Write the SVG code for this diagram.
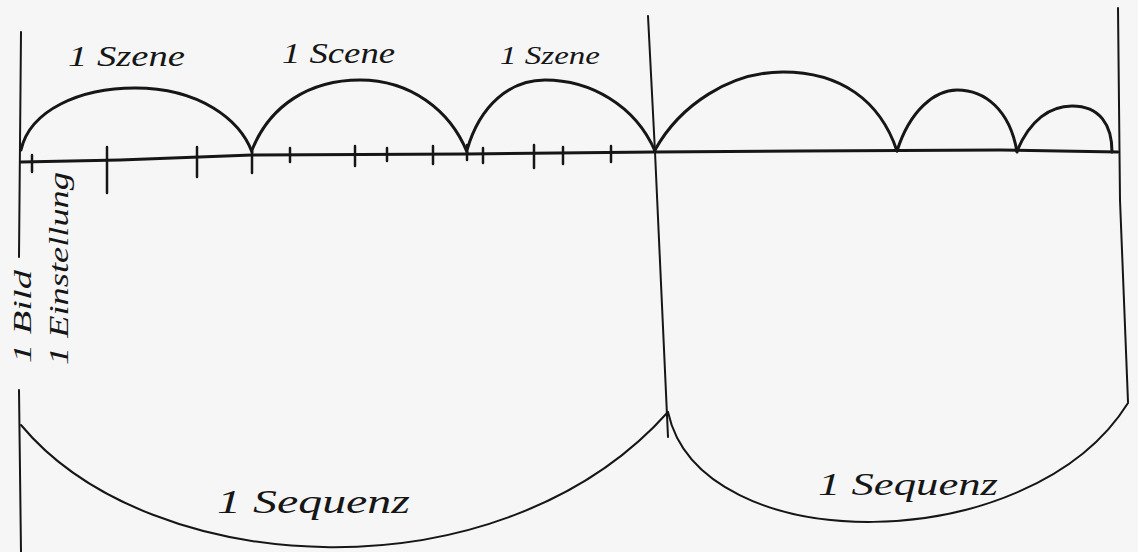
<svg xmlns="http://www.w3.org/2000/svg" width="1138" height="552" viewBox="0 0 1138 552">
<style>
.ln{fill:none;stroke:#161616;stroke-linecap:round;stroke-linejoin:round}
.thick{stroke-width:3}
.thin{stroke-width:2}
.tick{stroke-width:2.5}
.t{font-family:"Liberation Serif","DejaVu Serif",serif;font-style:italic;fill:#161616}
</style>
<rect width="1138" height="552" fill="#f6f6f6"/>
<g id="frame">
<path class="ln thin" d="M21,32 L19,257"/>
<path class="ln thin" d="M19,390 L21,552"/>
<path class="ln thin" d="M648,16 L655,152 L668,437"/>
<path class="ln thin" d="M1118,8 L1120,200 L1128,402"/>
</g>
<g id="timeline">
<path class="ln thick" d="M21,162 L120,160 L252,155 L467,154 L655,152 L800,151 L1000,150 L1118,152"/>
<g id="ticks">
<path class="ln tick" d="M32,155 V172 M107,147 V193 M197,147 V177 M252,150 V173 M290,148 V162 M355,146 V166 M387,148 V161 M433,146 V164 M467,145 V160 M483,148 V163 M534,145 V168 M563,147 V164 M611,146 V162"/>
</g>
</g>
<g id="scenes">
<path class="ln thick" d="M21,150 C30,110 80,88 135,88 C200,88 240,120 252,152"/>
<path class="ln thick" d="M252,150 C270,105 310,80 360,80 C410,80 450,110 467,152"/>
<path class="ln thick" d="M467,150 C480,105 510,80 545,80 C590,80 635,105 655,151"/>
<path class="ln thick" d="M655,150 C680,105 730,72 783,72 C840,72 880,100 897,151"/>
<path class="ln thick" d="M897,151 C910,110 935,90 957,90 C985,90 1010,110 1017,152"/>
<path class="ln thick" d="M1017,151 C1030,120 1050,106 1072,106 C1100,106 1112,125 1112,152"/>
</g>
<g id="sequences">
<path class="ln thin" d="M21,425 C150,580 500,600 668,412"/>
<path class="ln thin" d="M668,412 C700,560 1030,560 1128,403"/>
</g>
<g id="labels">
<text class="t" x="68" y="66" font-size="30" textLength="117" lengthAdjust="spacingAndGlyphs">1 Szene</text>
<text class="t" x="282" y="63" font-size="30" textLength="113" lengthAdjust="spacingAndGlyphs">1 Scene</text>
<text class="t" x="500" y="64" font-size="26" textLength="100" lengthAdjust="spacingAndGlyphs">1 Szene</text>
<text class="t" font-size="26" textLength="93" lengthAdjust="spacingAndGlyphs" transform="translate(31,363) rotate(-90)">1 Bild</text>
<text class="t" font-size="28" textLength="193" lengthAdjust="spacingAndGlyphs" transform="translate(68,365) rotate(-90)">1 Einstellung</text>
<text class="t" x="217" y="513" font-size="34" textLength="193" lengthAdjust="spacingAndGlyphs">1 Sequenz</text>
<text class="t" x="818" y="495" font-size="32" textLength="180" lengthAdjust="spacingAndGlyphs">1 Sequenz</text>
</g>
</svg>
